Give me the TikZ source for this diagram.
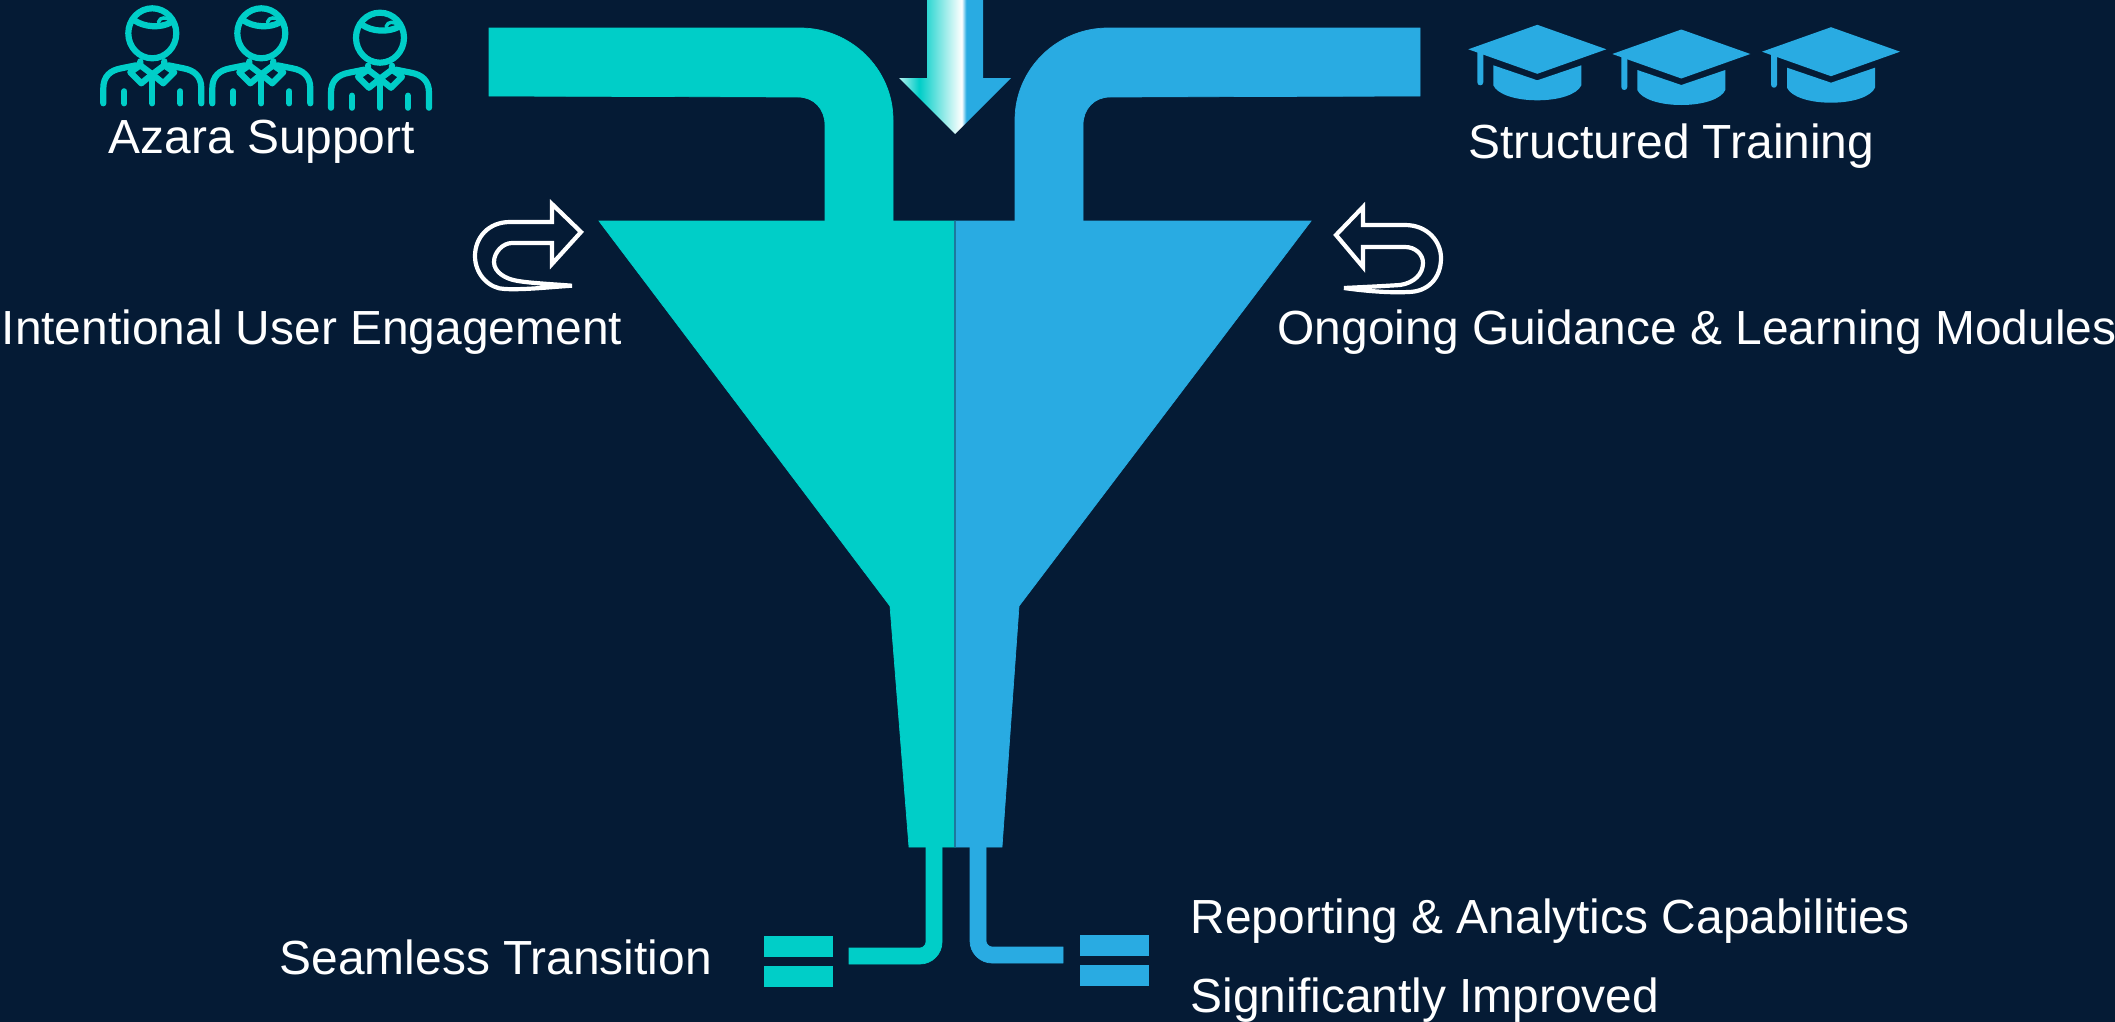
\documentclass[tikz,border=0pt]{standalone}
\usepackage{fontspec}
\setmainfont{Liberation Sans}
\definecolor{bgnavy}{HTML}{051B35}
\definecolor{azarateal}{HTML}{00CEC8}
\definecolor{azarablue}{HTML}{29ABE2}
\pgfdeclarehorizontalshading{dropshade}{100bp}{color(0bp)=(azarateal!30!white); color(25bp)=(azarateal!30!white); color(34bp)=(azarateal); color(53bp)=(white); color(55bp)=(azarablue); color(100bp)=(azarablue)}
\tikzset{
	tealshape/.style={fill=azarateal, draw=azarateal, line width=0.2pt},
	blueshape/.style={fill=azarablue, draw=azarablue, line width=0.2pt},
	uarrow/.style={draw=white, line width=0.042cm, line join=miter},
	persline/.style={draw=azarateal, line width=0.062cm, line cap=round, line join=round},
	capshape/.style={fill=azarablue},
	label/.style={text=white, anchor=base west, inner sep=0pt, font=\fontsize{13.62}{16}\selectfont}
}
\def\azaraperson(#1,#2){
	\begin{scope}[shift={(#1,#2)}]
		\draw[persline] (0,1) ellipse (24 and 25);
		\draw[persline] (-18,-12) .. controls (-8,-5) and (8,-4) .. (19,-10);
		\draw[persline, line width=0.035cm] (6,-10) .. controls (8,-16) and (14,-15) .. (18,-12);
		\draw[persline] (-49,71) -- (-49,56) .. controls (-49,44) and (-42,38) .. (-31,36) -- (-16,33);
		\draw[persline] (49,71) -- (49,56) .. controls (49,44) and (42,38) .. (31,36) -- (16,33);
		\draw[persline] (-12,29) -- (-12,33) -- (-22,40) -- (-11,51) -- (0,42) -- (11,51) -- (22,40) -- (12,33) -- (12,29);
		\draw[persline] (-12,33) -- (0,42) -- (12,33);
		\draw[persline] (0,42) -- (0,71);
		\draw[persline] (-28,59) -- (-28,71);
		\draw[persline] (28,59) -- (28,71);
	\end{scope}
}
\def\azaracap(#1,#2){
	\begin{scope}[shift={(#1,#2)}]
		\fill[capshape] (-69,0) -- (0,-24.5) -- (69,0) -- (0,24.5) -- cycle;
		\fill[capshape] (-60,2) -- (-54,4) -- (-54,33) .. controls (-54,37) and (-60,37) .. (-60,33) -- cycle;
		\fill[capshape] (-44,16) -- (0,31) -- (44,16) -- (44,36) .. controls (40,45) and (22,51) .. (0,51) .. controls (-22,51) and (-40,45) .. (-44,36) -- cycle;
	\end{scope}
}

\begin{document}
\begin{tikzpicture}[x=0.01cm, y=-0.01cm]
	%%%%% BACKGROUND %%%%%
	\useasboundingbox (0,0) rectangle (2115,1021);
	\fill[bgnavy] (-10,-10) rectangle (2125,1031);

	%%%%% PIPES %%%%%
	\draw[tealshape] (489,28) -- (800,28) .. controls (851,28) and (893,69) .. (893,120) -- (893,222) -- (825,222) -- (825,125) .. controls (825,109) and (814,97) .. (798,97) -- (489,96) -- cycle;
	\draw[blueshape] (1420,28) -- (1108,28) .. controls (1057,28) and (1015,69) .. (1015,120) -- (1015,222) -- (1083,222) -- (1083,125) .. controls (1083,109) and (1094,97) .. (1110,97) -- (1420,96) -- cycle;

	%%%%% DROP ARROW %%%%%
	\shade[shading=dropshade] (927,-2) -- (983,-2) -- (983,78) -- (1011,78) -- (955,134) -- (899,78) -- (927,78) -- cycle;

	%%%%% FUNNEL %%%%%
	\draw[tealshape] (599,221) -- (955,221) -- (955,847) -- (909,847) -- (890,606) -- cycle;
	\draw[blueshape] (1311,221) -- (955,221) -- (955,847) -- (1002,847) -- (1019,606) -- cycle;
	\draw[azarablue!70!black, line width=0.3pt] (955,221) -- (955,847);

	%%%%% SPOUTS %%%%%
	\draw[tealshape] (926,847) -- (942,847) -- (942,942) .. controls (942,954) and (932,964) .. (920,964) -- (849,964) -- (849,948) -- (920,948) .. controls (923,948) and (926,945) .. (926,942) -- cycle;
	\draw[blueshape] (986,847) -- (970,847) -- (970,941) .. controls (970,953) and (980,963) .. (992,963) -- (1063,963) -- (1063,947) -- (992,947) .. controls (989,947) and (986,944) .. (986,941) -- cycle;
	\draw[tealshape] (764,936) rectangle (832,956);
	\draw[tealshape] (764,966) rectangle (832,986);
	\draw[blueshape] (1080,935) rectangle (1148,955);
	\draw[blueshape] (1080,965) rectangle (1148,985);

	%%%%% ICONS %%%%%
	\azaraperson(152.3,32.3)
	\azaraperson(261.3,32.3)
	\azaraperson(380,36.7)

	\azaracap(1537.3,49.3)
	\azaracap(1681.3,54)
	\azaracap(1831,51.7)

	%%%%% RETURN ARROWS %%%%%
	\draw[uarrow] (581,232) -- (552,204) -- (552,222) -- (510,222) .. controls (488,222) and (475,238) .. (475,256) .. controls (475,275) and (490,289) .. (505,289) .. controls (525,290) and (550,287) .. (572,285.7) .. controls (550,284) and (530,283) .. (518,281) .. controls (505,279) and (494,272) .. (494,262) .. controls (494,252) and (503,243) .. (512,243) -- (552,243) -- (552,264) -- cycle;
	\draw[uarrow] (1336,235) -- (1363,207) -- (1363,225) -- (1405,225) .. controls (1428,225) and (1441,242) .. (1441,258) .. controls (1441,278) and (1428,292) .. (1408,292) .. controls (1390,293) and (1365,291) .. (1344,288) .. controls (1365,287) and (1385,286) .. (1400,285) .. controls (1414,283) and (1423,274) .. (1423,263) .. controls (1423,254) and (1415,247) .. (1405,247) -- (1363,247) -- (1363,267) -- cycle;

	%%%%% TEXT %%%%%
	\node[label] (support) at (108,153) {Azara Support};
	\node[label] (training) at (1468,158) {Structured Training};
	\node[label] (engagement) at (1,344) {Intentional User Engagement};
	\node[label] (guidance) at (1277,344) {Ongoing Guidance \& Learning Modules};
	\node[label] (transition) at (279,974) {Seamless Transition};
	\node[label] (reporting) at (1190,933) {Reporting \& Analytics Capabilities};
	\node[label] (improved) at (1190,1012) {Significantly Improved};
\end{tikzpicture}
\end{document}
